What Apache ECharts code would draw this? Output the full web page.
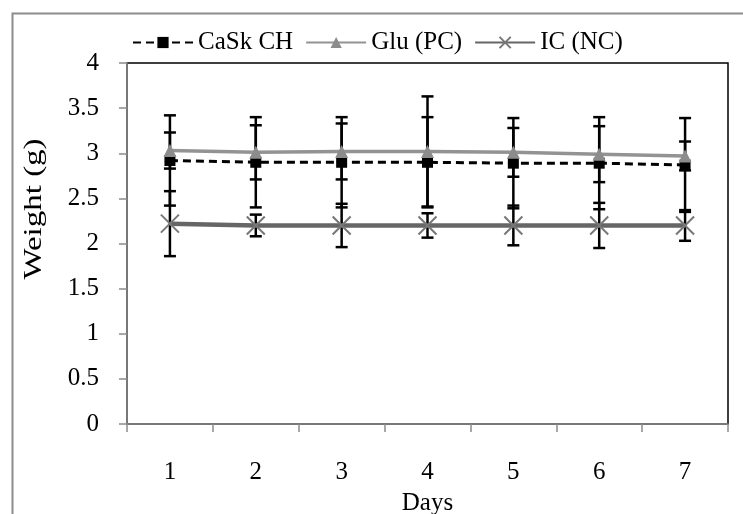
<!DOCTYPE html>
<html>
<head>
<meta charset="utf-8">
<script src="https://cdn.jsdelivr.net/npm/echarts@6/dist/echarts.min.js"></script>
<style>html,body{margin:0;padding:0;background:#fff;}#c{width:743px;height:514px;}</style>
</head>
<body>
<div id="c"></div>
<script>
const days = ['1', '2', '3', '4', '5', '6', '7'];
const yTicks = [0, 0.5, 1, 1.5, 2, 2.5, 3, 3.5, 4];
const caskMean = [2.92, 2.90, 2.90, 2.90, 2.89, 2.89, 2.87];
const caskErr  = [0.50, 0.50, 0.50, 0.50, 0.50, 0.51, 0.52];
const gluMean  = [3.03, 3.01, 3.02, 3.02, 3.01, 2.99, 2.97];
const gluErr   = [0.20, 0.30, 0.31, 0.61, 0.27, 0.31, 0.16];
const icMean   = [2.22, 2.20, 2.20, 2.20, 2.20, 2.20, 2.20];
const icErr    = [0.36, 0.12, 0.24, 0.135, 0.22, 0.25, 0.17];
const names = ['CaSk CH', 'Glu (PC)', 'IC (NC)'];

const FONT = "'Liberation Serif', 'Times New Roman', serif";
const FS = 25;

function errData(mean, err) {
  return mean.map((m, i) => [i, m - err[i], m + err[i]]);
}
function renderErr(params, api) {
  const x = api.value(0);
  const lo = api.coord([x, api.value(1)]);
  const hi = api.coord([x, api.value(2)]);
  const w = 6;
  const st = { stroke: '#000', lineWidth: 2.5 };
  return {
    type: 'group',
    children: [
      { type: 'line', shape: { x1: lo[0], y1: lo[1], x2: hi[0], y2: hi[1] }, style: st },
      { type: 'line', shape: { x1: lo[0] - w, y1: lo[1], x2: lo[0] + w, y2: lo[1] }, style: st },
      { type: 'line', shape: { x1: hi[0] - w, y1: hi[1], x2: hi[0] + w, y2: hi[1] }, style: st }
    ]
  };
}
function errSeries(mean, err) {
  return {
    type: 'custom', renderItem: renderErr, data: errData(mean, err),
    encode: { x: 0, y: [1, 2] }, z: 2, silent: true
  };
}

const chart = echarts.init(document.getElementById('c'), null, { renderer: 'canvas' });
chart.setOption({
  animation: false,
  backgroundColor: '#fff',
  graphic: [
    { type: 'rect', left: 10, top: 11, z: 0, shape: { width: 780, height: 560 },
      style: { fill: 'none', stroke: '#8c8c8c', lineWidth: 2 } },
    { type: 'text', x: 34, y: 209, rotation: Math.PI / 2, scaleX: 1.32,
      style: { text: 'Weight (g)', font: FS + 'px ' + FONT, fill: '#000', textAlign: 'center', textVerticalAlign: 'middle' } }
  ],
  legend: {
    data: names, top: 25, left: 127, itemWidth: 60, itemHeight: 14, itemGap: 12,
    textStyle: { fontSize: FS, fontFamily: FONT, color: '#000' }
  },
  grid: { left: 127, right: 15, top: 63, bottom: 90, containLabel: false, outerBoundsMode: 'none',
    show: true, borderColor: '#000', borderWidth: 1.5, backgroundColor: 'transparent' },
  xAxis: {
    type: 'category', data: days, boundaryGap: true,
    name: 'Days', nameLocation: 'middle', nameGap: 67,
    nameTextStyle: { fontSize: FS, fontFamily: FONT, color: '#000' },
    axisLine: { lineStyle: { color: '#8c8c8c', width: 1.5 } },
    axisTick: { show: true, inside: false, length: 8, alignWithLabel: false, lineStyle: { color: '#8c8c8c', width: 1.5 } },
    axisLabel: { fontSize: FS, fontFamily: FONT, color: '#000', margin: 36 },
    splitLine: { show: false }, z: 5
  },
  yAxis: {
    type: 'value', min: yTicks[0], max: yTicks[yTicks.length - 1], interval: 0.5,
    axisLine: { show: true, lineStyle: { color: '#8c8c8c', width: 1.5 } },
    axisTick: { show: true, inside: false, length: 8, lineStyle: { color: '#8c8c8c', width: 1.5 } },
    axisLabel: { fontSize: FS, fontFamily: FONT, color: '#000', margin: 28 },
    splitLine: { show: false }, z: 5
  },
  series: [
    errSeries(caskMean, caskErr),
    errSeries(gluMean, gluErr),
    errSeries(icMean, icErr),
    {
      name: names[0], type: 'line', data: caskMean, z: 4,
      symbol: 'rect', symbolSize: 11, showAllSymbol: true,
      lineStyle: { color: '#000', width: 3, type: [8, 5] },
      itemStyle: { color: '#000' }
    },
    {
      name: names[1], type: 'line', data: gluMean, z: 4,
      symbol: 'triangle', symbolSize: 13,
      lineStyle: { color: '#939393', width: 3.5 },
      itemStyle: { color: '#8c8c8c' }
    },
    {
      name: names[2], type: 'line', data: icMean, z: 4,
      symbol: 'path://M0,0L10,10M10,0L0,10', symbolSize: 18,
      lineStyle: { color: '#666', width: 4.5 },
      itemStyle: { color: '#777', borderColor: '#777', borderWidth: 2 }
    }
  ]
});
</script>
</body>
</html>
